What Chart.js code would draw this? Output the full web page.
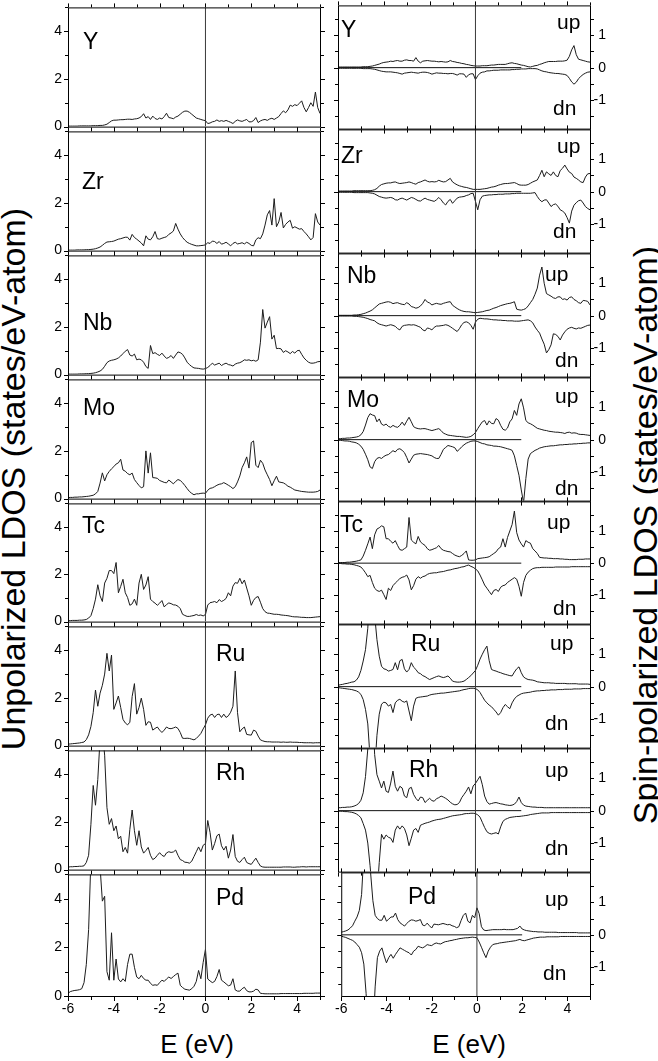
<!DOCTYPE html>
<html>
<head>
<meta charset="utf-8">
<title>LDOS</title>
<script src="https://cdn.jsdelivr.net/npm/chart.js@4.4.1/dist/chart.umd.min.js"></script>
<style>
  html, body { margin: 0; padding: 0; background: #fff; }
  #page { position: relative; width: 658px; height: 1061px; overflow: hidden;
          font-family: "Liberation Sans", Arial, Helvetica, sans-serif; color: #000; }
  #page canvas { position: absolute; }
  .ytitle { position: absolute; white-space: nowrap; font-size: 34px; line-height: 1;
            transform: translate(-50%, -50%) rotate(-90deg); }
  .xtitle { position: absolute; white-space: nowrap; font-size: 26px; line-height: 1;
            transform: translateX(-50%); }
</style>
</head>
<body>
<div id="page">
  <div class="ytitle" style="left:13px; top:479px">Unpolarized LDOS (states/eV-atom)</div>
  <div class="ytitle" style="left:645px; top:535px">Spin-polarized LDOS (states/eV-atom)</div>
  <div class="xtitle" style="left:197px; top:1031px">E (eV)</div>
  <div class="xtitle" style="left:469px; top:1031px">E (eV)</div>
</div>
<script>
// energy grid (eV)
const energy = [
  -6.0,-5.9,-5.8,-5.7,-5.6,-5.5,-5.4,-5.3,-5.2,-5.1,
  -5.0,-4.9,-4.8,-4.7,-4.6,-4.5,-4.4,-4.3,-4.2,-4.1,
  -4.0,-3.9,-3.8,-3.7,-3.6,-3.5,-3.4,-3.3,-3.2,-3.1,
  -3.0,-2.9,-2.8,-2.7,-2.6,-2.5,-2.4,-2.3,-2.2,-2.1,
  -2.0,-1.9,-1.8,-1.7,-1.6,-1.5,-1.4,-1.3,-1.2,-1.1,
  -1.0,-0.9,-0.8,-0.7,-0.6,-0.5,-0.4,-0.3,-0.2,-0.1,
  0.0,0.1,0.2,0.3,0.4,0.5,0.6,0.7,0.8,0.9,
  1.0,1.1,1.2,1.3,1.4,1.5,1.6,1.7,1.8,1.9,
  2.0,2.1,2.2,2.3,2.4,2.5,2.6,2.7,2.8,2.9,
  3.0,3.1,3.2,3.3,3.4,3.5,3.6,3.7,3.8,3.9,
  4.0,4.1,4.2,4.3,4.4,4.5,4.6,4.7,4.8,4.9,
  5.0];

const elements = ["Y", "Zr", "Nb", "Mo", "Tc", "Ru", "Rh", "Pd"];

// unpolarized LDOS (left column)
const dosY = [0.02,0.02,0.02,0.02,0.02,0.03,0.03,0.03,0.03,0.03,
  0.03,0.04,0.04,0.04,0.05,0.05,0.07,0.1,0.17,0.24,
  0.27,0.27,0.28,0.29,0.29,0.3,0.31,0.31,0.3,0.32,
  0.33,0.36,0.42,0.54,0.36,0.42,0.3,0.44,0.34,0.3,
  0.36,0.32,0.42,0.56,0.38,0.36,0.33,0.4,0.44,0.52,
  0.6,0.65,0.65,0.6,0.52,0.44,0.36,0.33,0.3,0.27,
  0.25,0.13,0.15,0.2,0.22,0.28,0.22,0.25,0.22,0.26,
  0.22,0.18,0.13,0.22,0.28,0.24,0.22,0.26,0.3,0.2,
  0.2,0.25,0.38,0.17,0.24,0.28,0.3,0.26,0.32,0.35,
  0.3,0.36,0.42,0.55,0.66,0.58,0.7,0.9,0.85,0.92,
  0.88,0.98,1.08,0.8,0.62,0.8,1.0,0.85,1.45,0.8,
  0.55];
const dosZr = [0.02,0.02,0.02,0.02,0.03,0.03,0.03,0.03,0.04,0.04,
  0.05,0.06,0.08,0.11,0.15,0.22,0.3,0.36,0.37,0.38,
  0.4,0.44,0.48,0.5,0.53,0.56,0.56,0.44,0.68,0.55,
  0.48,0.4,0.32,0.2,0.62,0.48,0.45,0.58,0.8,0.5,
  0.48,0.52,0.55,0.58,0.68,0.74,0.82,1.14,0.9,0.7,
  0.55,0.44,0.35,0.3,0.26,0.23,0.2,0.2,0.21,0.22,
  0.24,0.33,0.3,0.4,0.38,0.3,0.38,0.27,0.3,0.35,
  0.28,0.2,0.3,0.35,0.28,0.3,0.33,0.28,0.35,0.3,
  0.22,0.2,0.45,0.54,0.5,0.7,1.07,1.5,1.68,1.07,
  2.18,1.0,1.2,1.6,0.95,1.1,1.2,1.27,0.94,1.0,
  0.95,0.9,0.92,0.8,0.7,0.58,0.45,0.55,1.55,1.2,
  1.07];
const dosNb = [0.02,0.02,0.02,0.02,0.02,0.03,0.03,0.03,0.04,0.04,
  0.05,0.06,0.08,0.11,0.15,0.22,0.35,0.5,0.57,0.6,
  0.62,0.65,0.7,0.78,0.88,0.98,1.05,0.82,0.78,0.86,
  0.62,0.65,0.62,0.52,0.34,0.26,1.22,0.88,0.92,0.85,
  0.8,0.9,0.78,0.68,0.72,0.8,0.68,0.82,0.95,0.92,
  0.85,0.7,0.52,0.42,0.34,0.28,0.27,0.26,0.24,0.23,
  0.25,0.3,0.38,0.48,0.4,0.44,0.48,0.38,0.44,0.48,
  0.42,0.4,0.36,0.44,0.48,0.5,0.55,0.62,0.6,0.62,
  0.58,0.6,0.56,0.62,1.36,2.73,1.95,2.2,2.43,1.49,
  1.65,1.09,1.1,1.08,0.93,1.0,0.95,0.88,0.97,0.9,
  1.0,1.02,0.85,0.7,0.6,0.52,0.48,0.48,0.5,0.54,
  0.55];
const dosMo = [0.04,0.05,0.05,0.06,0.06,0.07,0.07,0.08,0.09,0.1,
  0.12,0.14,0.2,0.3,0.65,1.08,0.74,1.0,1.14,1.25,
  1.34,1.45,1.5,1.65,1.2,1.15,1.05,1.0,1.07,0.8,
  0.67,0.55,0.45,0.5,2.0,1.07,1.92,0.88,0.87,0.85,
  0.76,0.72,0.68,0.66,0.78,0.7,0.62,0.72,0.8,0.76,
  0.67,0.55,0.42,0.3,0.22,0.16,0.2,0.2,0.22,0.23,
  0.22,0.35,0.43,0.45,0.5,0.56,0.6,0.62,0.67,0.62,
  0.56,0.5,0.42,0.5,0.7,0.95,1.3,1.5,1.75,1.28,
  2.35,2.42,1.4,1.3,1.61,1.48,1.2,1.0,0.8,0.54,
  0.75,0.94,0.7,0.68,0.66,0.6,0.52,0.48,0.42,0.36,
  0.34,0.32,0.3,0.29,0.28,0.27,0.27,0.27,0.28,0.3,
  0.36];
const dosTc = [0.04,0.04,0.05,0.05,0.05,0.06,0.06,0.07,0.09,0.15,
  0.25,0.55,0.95,1.56,1.09,0.85,1.63,1.83,2.16,2.16,
  2.03,2.5,1.22,1.49,1.79,1.22,1.02,0.69,0.75,0.95,
  0.69,1.63,2.0,1.36,1.55,1.9,0.95,0.85,0.78,0.69,
  0.78,0.89,0.62,0.72,0.79,0.76,0.71,0.7,0.65,0.55,
  0.31,0.26,0.22,0.22,0.24,0.26,0.3,0.26,0.28,0.24,
  0.3,0.7,0.8,0.82,0.85,0.8,0.93,0.85,0.9,0.98,
  1.22,1.09,1.5,1.65,1.62,1.83,1.6,1.76,1.42,1.09,
  0.69,0.9,1.02,1.06,0.82,0.55,0.42,0.36,0.35,0.33,
  0.31,0.31,0.3,0.28,0.27,0.26,0.25,0.23,0.21,0.2,
  0.2,0.19,0.18,0.18,0.17,0.17,0.17,0.18,0.19,0.2,
  0.21];
const dosRu = [0.06,0.07,0.08,0.09,0.1,0.11,0.13,0.15,0.25,0.45,
  0.8,1.38,2.33,1.65,2.2,2.53,3.0,3.87,3.13,3.8,
  1.52,1.79,2.08,1.6,1.1,0.95,0.87,0.98,2.06,2.6,
  1.32,1.6,1.99,1.52,0.85,1.0,0.98,0.65,0.72,0.78,
  0.65,0.55,0.65,0.78,0.72,0.71,0.74,0.78,0.72,0.55,
  0.31,0.3,0.31,0.3,0.27,0.24,0.3,0.4,0.51,0.7,
  0.87,1.15,1.28,1.32,1.18,1.3,1.32,1.18,1.32,1.18,
  1.25,1.4,1.65,3.13,1.38,0.58,0.7,0.78,0.47,0.45,
  0.44,0.65,0.6,0.4,0.24,0.2,0.17,0.16,0.16,0.15,
  0.15,0.15,0.15,0.14,0.15,0.14,0.14,0.15,0.14,0.14,
  0.14,0.13,0.13,0.12,0.12,0.12,0.12,0.11,0.12,0.12,
  0.12];
const dosRh = [0.1,0.12,0.12,0.13,0.13,0.14,0.14,0.16,0.3,0.6,
  1.9,3.53,2.7,3.78,5.5,5.8,4.8,2.6,1.9,2.14,
  1.63,1.83,1.29,1.4,0.75,0.93,0.69,1.69,2.5,1.63,
  1.02,1.63,0.95,0.69,0.8,0.93,0.6,0.42,0.48,0.6,
  0.71,0.6,0.55,0.7,0.75,0.72,0.74,0.82,0.6,0.42,
  0.38,0.31,0.3,0.27,0.35,0.55,0.75,0.95,0.75,1.02,
  1.09,2.06,1.56,0.82,1.09,1.42,1.49,1.0,0.82,0.98,
  0.48,0.82,1.47,0.55,0.35,0.3,0.42,0.52,0.3,0.25,
  0.22,0.35,0.48,0.3,0.15,0.11,0.1,0.1,0.1,0.1,
  0.1,0.1,0.1,0.1,0.11,0.11,0.11,0.11,0.1,0.1,
  0.11,0.11,0.12,0.12,0.11,0.12,0.12,0.12,0.12,0.12,
  0.12];
const dosPd = [0.11,0.18,0.21,0.23,0.24,0.26,0.3,0.55,1.3,2.73,
  5.6,7.0,7.0,6.5,5.3,3.9,4.1,1.0,0.65,2.6,
  0.65,1.52,0.7,0.58,0.71,0.6,1.3,1.72,1.72,1.18,
  0.78,0.71,0.85,0.72,0.65,0.65,0.52,0.44,0.46,0.44,
  0.55,0.65,0.6,0.7,0.78,0.72,0.8,0.88,0.94,0.44,
  0.35,0.28,0.26,0.24,0.3,0.4,0.6,1.05,0.71,1.38,
  1.92,0.7,0.62,0.55,0.6,0.8,1.09,0.65,0.58,0.5,
  0.42,0.45,0.71,0.25,0.2,0.2,0.3,0.36,0.22,0.17,
  0.17,0.2,0.28,0.25,0.11,0.1,0.09,0.09,0.09,0.09,
  0.09,0.09,0.09,0.1,0.1,0.1,0.1,0.1,0.1,0.1,
  0.1,0.1,0.1,0.11,0.11,0.11,0.11,0.11,0.12,0.12,
  0.12];

// spin-polarized LDOS (right column): majority (up) and minority (dn, plotted negative)
const upY = [0.02,0.02,0.02,0.02,0.02,0.02,0.02,0.02,0.02,0.02,
  0.02,0.03,0.03,0.03,0.04,0.05,0.07,0.09,0.11,0.14,
  0.16,0.17,0.18,0.2,0.19,0.21,0.22,0.2,0.2,0.23,
  0.24,0.22,0.22,0.2,0.31,0.2,0.15,0.2,0.21,0.22,
  0.21,0.2,0.2,0.19,0.18,0.19,0.18,0.17,0.18,0.22,
  0.19,0.18,0.16,0.15,0.13,0.12,0.1,0.09,0.07,0.06,
  0.05,0.05,0.05,0.06,0.06,0.06,0.07,0.08,0.08,0.09,
  0.1,0.1,0.1,0.1,0.12,0.14,0.15,0.13,0.12,0.1,
  0.08,0.07,0.05,0.03,0.02,0.04,0.06,0.07,0.1,0.12,
  0.15,0.17,0.19,0.19,0.19,0.19,0.2,0.2,0.2,0.21,
  0.23,0.35,0.55,0.68,0.4,0.26,0.24,0.22,0.2,0.18,
  0.17];
const dnY = [-0.02,-0.02,-0.02,-0.02,-0.02,-0.02,-0.02,-0.02,-0.02,-0.02,
  -0.02,-0.03,-0.03,-0.03,-0.03,-0.04,-0.05,-0.07,-0.09,-0.11,
  -0.12,-0.13,-0.13,-0.13,-0.14,-0.15,-0.16,-0.18,-0.2,-0.17,
  -0.16,-0.15,-0.14,-0.15,-0.16,-0.17,-0.15,-0.14,-0.14,-0.15,
  -0.17,-0.2,-0.18,-0.16,-0.17,-0.17,-0.18,-0.18,-0.19,-0.18,
  -0.18,-0.2,-0.23,-0.19,-0.19,-0.2,-0.3,-0.22,-0.19,-0.19,
  -0.37,-0.25,-0.17,-0.14,-0.13,-0.1,-0.1,-0.09,-0.08,-0.08,
  -0.08,-0.07,-0.07,-0.07,-0.07,-0.07,-0.06,-0.06,-0.05,-0.05,
  -0.04,-0.04,-0.04,-0.03,-0.03,-0.03,-0.03,-0.04,-0.07,-0.1,
  -0.12,-0.13,-0.15,-0.16,-0.17,-0.18,-0.18,-0.19,-0.2,-0.21,
  -0.24,-0.33,-0.44,-0.51,-0.45,-0.34,-0.27,-0.21,-0.17,-0.14,
  -0.13];
const upZr = [0.02,0.02,0.02,0.02,0.02,0.02,0.02,0.03,0.03,0.03,
  0.03,0.03,0.03,0.03,0.03,0.04,0.06,0.1,0.17,0.22,
  0.24,0.26,0.27,0.27,0.29,0.3,0.27,0.25,0.26,0.27,
  0.28,0.3,0.28,0.25,0.23,0.28,0.3,0.33,0.36,0.32,
  0.3,0.31,0.3,0.31,0.35,0.32,0.3,0.31,0.36,0.41,
  0.3,0.25,0.21,0.18,0.16,0.14,0.13,0.11,0.09,0.07,
  0.07,0.07,0.07,0.08,0.09,0.1,0.12,0.14,0.15,0.17,
  0.2,0.22,0.24,0.25,0.25,0.26,0.27,0.28,0.25,0.21,
  0.2,0.2,0.2,0.22,0.26,0.3,0.33,0.36,0.5,0.66,
  0.46,0.61,0.55,0.5,0.61,0.5,0.46,0.65,0.72,0.82,
  0.7,0.6,0.56,0.45,0.41,0.36,0.3,0.28,0.45,0.55,
  0.56];
const dnZr = [-0.02,-0.02,-0.02,-0.02,-0.02,-0.02,-0.02,-0.03,-0.03,-0.03,
  -0.03,-0.03,-0.03,-0.03,-0.04,-0.05,-0.07,-0.11,-0.15,-0.17,
  -0.19,-0.2,-0.19,-0.18,-0.2,-0.25,-0.26,-0.22,-0.2,-0.23,
  -0.26,-0.22,-0.18,-0.2,-0.24,-0.28,-0.29,-0.24,-0.2,-0.24,
  -0.26,-0.28,-0.3,-0.25,-0.18,-0.25,-0.35,-0.41,-0.3,-0.24,
  -0.36,-0.28,-0.2,-0.17,-0.16,-0.15,-0.12,-0.1,-0.06,-0.05,
  -0.3,-0.56,-0.25,-0.14,-0.12,-0.11,-0.1,-0.1,-0.09,-0.09,
  -0.08,-0.08,-0.08,-0.07,-0.07,-0.07,-0.06,-0.06,-0.05,-0.05,
  -0.05,-0.05,-0.05,-0.05,-0.05,-0.04,-0.03,-0.15,-0.25,-0.31,
  -0.26,-0.25,-0.35,-0.46,-0.4,-0.38,-0.45,-0.56,-0.6,-0.66,
  -0.8,-0.97,-0.6,-0.42,-0.34,-0.28,-0.26,-0.35,-0.46,-0.52,
  -0.56];
const upNb = [0.01,0.01,0.01,0.01,0.01,0.01,0.01,0.02,0.02,0.03,
  0.04,0.06,0.08,0.11,0.14,0.18,0.24,0.3,0.36,0.38,
  0.4,0.42,0.43,0.41,0.37,0.39,0.4,0.37,0.35,0.34,
  0.4,0.36,0.28,0.26,0.23,0.25,0.3,0.38,0.5,0.42,
  0.39,0.33,0.36,0.38,0.36,0.35,0.38,0.4,0.42,0.43,
  0.32,0.27,0.22,0.18,0.15,0.13,0.12,0.12,0.11,0.1,
  0.09,0.1,0.11,0.12,0.14,0.16,0.17,0.2,0.23,0.25,
  0.28,0.31,0.33,0.35,0.37,0.38,0.4,0.43,0.2,0.18,
  0.17,0.19,0.22,0.3,0.4,0.5,0.66,0.85,1.25,1.5,
  1.0,0.68,0.64,0.6,0.55,0.53,0.58,0.58,0.5,0.52,
  0.48,0.56,0.58,0.5,0.46,0.4,0.38,0.47,0.46,0.44,
  0.33];
const dnNb = [-0.01,-0.01,-0.01,-0.01,-0.01,-0.01,-0.01,-0.02,-0.02,-0.03,
  -0.04,-0.05,-0.07,-0.09,-0.12,-0.14,-0.16,-0.22,-0.26,-0.28,
  -0.3,-0.32,-0.3,-0.28,-0.3,-0.33,-0.4,-0.44,-0.33,-0.3,
  -0.29,-0.28,-0.29,-0.28,-0.3,-0.33,-0.36,-0.44,-0.47,-0.38,
  -0.4,-0.44,-0.36,-0.32,-0.32,-0.31,-0.3,-0.28,-0.3,-0.34,
  -0.39,-0.44,-0.49,-0.4,-0.28,-0.21,-0.19,-0.22,-0.3,-0.42,
  -0.2,-0.11,-0.08,-0.09,-0.1,-0.1,-0.11,-0.12,-0.13,-0.13,
  -0.14,-0.14,-0.15,-0.15,-0.16,-0.16,-0.16,-0.17,-0.17,-0.17,
  -0.16,-0.15,-0.14,-0.13,-0.16,-0.22,-0.35,-0.45,-0.54,-0.72,
  -0.88,-1.15,-1.05,-0.9,-0.56,-0.58,-0.64,-0.75,-0.6,-0.5,
  -0.42,-0.38,-0.36,-0.39,-0.41,-0.38,-0.39,-0.36,-0.33,-0.3,
  -0.29];
const upMo = [0.03,0.03,0.04,0.04,0.05,0.05,0.06,0.07,0.08,0.1,
  0.15,0.25,0.45,0.68,0.8,0.76,0.74,0.55,0.64,0.48,
  0.44,0.48,0.41,0.38,0.44,0.4,0.38,0.44,0.54,0.44,
  0.57,0.69,0.55,0.4,0.36,0.34,0.33,0.34,0.34,0.32,
  0.3,0.28,0.3,0.32,0.34,0.28,0.2,0.17,0.14,0.13,
  0.12,0.11,0.1,0.1,0.09,0.08,0.07,0.08,0.1,0.15,
  0.22,0.34,0.45,0.55,0.59,0.45,0.58,0.5,0.49,0.65,
  0.6,0.44,0.32,0.29,0.36,0.55,0.64,0.9,0.75,1.1,
  1.26,0.98,0.59,0.52,0.49,0.45,0.4,0.35,0.33,0.31,
  0.29,0.28,0.26,0.25,0.24,0.23,0.23,0.22,0.21,0.19,
  0.22,0.23,0.2,0.21,0.2,0.17,0.16,0.16,0.15,0.14,
  0.13];
const dnMo = [-0.02,-0.02,-0.03,-0.04,-0.04,-0.05,-0.07,-0.08,-0.1,-0.14,
  -0.2,-0.3,-0.45,-0.62,-0.84,-0.89,-0.68,-0.58,-0.55,-0.58,
  -0.52,-0.48,-0.46,-0.4,-0.34,-0.38,-0.3,-0.28,-0.33,-0.4,
  -0.55,-0.72,-0.6,-0.48,-0.45,-0.44,-0.43,-0.44,-0.45,-0.46,
  -0.48,-0.5,-0.55,-0.58,-0.58,-0.45,-0.3,-0.24,-0.18,-0.2,
  -0.22,-0.25,-0.36,-0.3,-0.22,-0.16,-0.11,-0.08,-0.05,-0.04,
  -0.04,-0.06,-0.09,-0.12,-0.13,-0.16,-0.17,-0.18,-0.2,-0.2,
  -0.21,-0.22,-0.24,-0.26,-0.28,-0.3,-0.33,-0.5,-0.8,-1.1,
  -1.55,-1.95,-1.2,-0.6,-0.43,-0.38,-0.33,-0.3,-0.26,-0.24,
  -0.22,-0.21,-0.2,-0.19,-0.19,-0.18,-0.17,-0.16,-0.16,-0.15,
  -0.15,-0.14,-0.14,-0.13,-0.13,-0.12,-0.12,-0.11,-0.11,-0.1,
  -0.1];
const upTc = [0.02,0.02,0.02,0.02,0.03,0.03,0.04,0.05,0.06,0.08,
  0.1,0.22,0.4,0.6,0.81,0.45,0.88,1.06,1.1,1.16,
  1.13,0.76,0.76,0.68,0.62,0.7,0.55,0.42,0.4,0.45,
  0.5,1.42,0.72,0.65,0.6,0.83,0.66,0.6,0.55,0.45,
  0.4,0.42,0.45,0.48,0.55,0.45,0.4,0.38,0.36,0.35,
  0.3,0.25,0.22,0.2,0.24,0.3,0.38,0.1,0.09,0.09,
  0.1,0.14,0.15,0.16,0.17,0.18,0.2,0.25,0.3,0.35,
  0.45,0.5,0.76,0.5,0.8,1.0,1.2,1.62,0.95,0.72,
  0.6,0.5,0.7,0.65,0.62,0.45,0.38,0.3,0.18,0.17,
  0.16,0.16,0.15,0.15,0.14,0.14,0.14,0.13,0.13,0.12,
  0.12,0.11,0.11,0.11,0.11,0.12,0.12,0.12,0.13,0.13,
  0.13];
const dnTc = [-0.01,-0.01,-0.02,-0.02,-0.03,-0.03,-0.04,-0.05,-0.07,-0.09,
  -0.12,-0.2,-0.3,-0.42,-0.38,-0.6,-0.78,-0.85,-0.88,-0.84,
  -0.98,-1.13,-0.78,-0.85,-0.7,-0.62,-0.55,-0.48,-0.44,-0.42,
  -0.37,-0.52,-0.83,-0.7,-0.5,-0.42,-0.47,-0.42,-0.4,-0.35,
  -0.32,-0.31,-0.3,-0.3,-0.28,-0.27,-0.26,-0.24,-0.22,-0.21,
  -0.19,-0.17,-0.16,-0.14,-0.12,-0.11,-0.08,-0.06,-0.1,-0.13,
  -0.18,-0.24,-0.37,-0.52,-0.68,-0.78,-0.88,-0.98,-0.85,-0.82,
  -0.88,-0.75,-0.7,-0.68,-0.6,-0.55,-0.5,-0.45,-0.5,-0.72,
  -1.03,-0.6,-0.38,-0.28,-0.22,-0.17,-0.15,-0.14,-0.14,-0.13,
  -0.13,-0.13,-0.13,-0.13,-0.13,-0.12,-0.12,-0.12,-0.12,-0.12,
  -0.12,-0.12,-0.11,-0.11,-0.11,-0.11,-0.11,-0.11,-0.11,-0.11,
  -0.11];
const upRu = [0.04,0.06,0.07,0.09,0.1,0.12,0.14,0.15,0.2,0.3,
  0.5,0.79,1.14,1.8,3.0,3.2,2.2,1.45,0.94,0.63,
  0.55,0.53,0.48,0.5,0.53,0.74,0.52,0.8,0.84,0.55,
  0.45,0.53,0.74,0.6,0.53,0.43,0.4,0.34,0.31,0.26,
  0.22,0.25,0.28,0.31,0.33,0.3,0.28,0.3,0.33,0.26,
  0.17,0.15,0.14,0.14,0.15,0.17,0.22,0.28,0.34,0.42,
  0.5,0.66,0.85,1.0,1.14,1.25,0.8,0.53,0.5,0.48,
  0.45,0.43,0.4,0.38,0.36,0.34,0.33,0.45,0.55,0.61,
  0.43,0.3,0.25,0.22,0.21,0.2,0.18,0.15,0.14,0.13,
  0.12,0.12,0.12,0.11,0.11,0.1,0.1,0.1,0.1,0.1,
  0.09,0.09,0.09,0.09,0.09,0.08,0.08,0.08,0.08,0.08,
  0.07];
const dnRu = [-0.03,-0.04,-0.05,-0.06,-0.07,-0.08,-0.09,-0.11,-0.13,-0.17,
  -0.24,-0.4,-0.7,-1.15,-2.2,-3.0,-2.6,-1.5,-0.85,-0.54,
  -0.48,-0.5,-0.6,-0.55,-0.8,-0.5,-0.42,-0.39,-0.45,-0.48,
  -0.44,-0.75,-1.05,-0.6,-0.36,-0.33,-0.32,-0.31,-0.3,-0.29,
  -0.26,-0.24,-0.23,-0.22,-0.21,-0.2,-0.2,-0.19,-0.18,-0.17,
  -0.16,-0.15,-0.14,-0.13,-0.11,-0.09,-0.08,-0.06,-0.05,-0.05,
  -0.06,-0.1,-0.18,-0.3,-0.42,-0.5,-0.57,-0.62,-0.7,-0.78,
  -0.88,-0.8,-0.65,-0.55,-0.62,-0.68,-0.5,-0.38,-0.3,-0.26,
  -0.22,-0.2,-0.19,-0.18,-0.17,-0.15,-0.14,-0.13,-0.13,-0.12,
  -0.12,-0.11,-0.11,-0.1,-0.1,-0.1,-0.09,-0.09,-0.09,-0.08,
  -0.08,-0.08,-0.08,-0.07,-0.07,-0.07,-0.07,-0.06,-0.06,-0.06,
  -0.06];
const upRh = [0.09,0.09,0.1,0.1,0.11,0.11,0.12,0.14,0.17,0.22,
  0.32,0.55,1.05,1.9,3.0,3.2,1.73,1.11,0.91,0.7,
  0.91,0.6,0.56,0.85,1.22,0.75,0.6,0.75,0.7,0.45,
  0.4,0.68,0.72,0.5,0.38,0.3,0.42,0.4,0.25,0.32,
  0.38,0.31,0.29,0.37,0.4,0.45,0.42,0.38,0.33,0.26,
  0.21,0.18,0.19,0.25,0.4,0.5,0.6,0.73,0.52,0.76,
  0.84,0.95,1.06,0.8,0.45,0.28,0.2,0.22,0.24,0.25,
  0.23,0.21,0.2,0.18,0.17,0.16,0.17,0.2,0.28,0.42,
  0.25,0.17,0.14,0.13,0.12,0.11,0.11,0.1,0.1,0.1,
  0.09,0.09,0.09,0.09,0.09,0.09,0.09,0.09,0.09,0.09,
  0.09,0.09,0.09,0.09,0.09,0.09,0.09,0.09,0.09,0.09,
  0.09];
const dnRh = [-0.01,-0.02,-0.02,-0.03,-0.03,-0.04,-0.05,-0.07,-0.1,-0.15,
  -0.22,-0.4,-0.6,-1.0,-1.7,-2.5,-3.0,-2.6,-1.6,-0.73,
  -0.88,-0.75,-0.82,-0.85,-0.98,-0.6,-0.47,-0.57,-0.47,-0.55,
  -0.75,-1.08,-0.85,-0.6,-0.55,-0.67,-0.45,-0.42,-0.39,-0.37,
  -0.35,-0.32,-0.3,-0.28,-0.27,-0.26,-0.24,-0.22,-0.2,-0.18,
  -0.16,-0.15,-0.14,-0.13,-0.12,-0.1,-0.09,-0.09,-0.08,-0.08,
  -0.09,-0.13,-0.2,-0.36,-0.52,-0.65,-0.7,-0.72,-0.7,-0.68,
  -0.72,-0.5,-0.33,-0.27,-0.24,-0.21,-0.2,-0.19,-0.18,-0.18,
  -0.17,-0.16,-0.15,-0.14,-0.12,-0.11,-0.1,-0.09,-0.08,-0.07,
  -0.07,-0.07,-0.07,-0.06,-0.06,-0.06,-0.06,-0.06,-0.06,-0.06,
  -0.06,-0.06,-0.06,-0.06,-0.06,-0.06,-0.06,-0.06,-0.06,-0.06,
  -0.06];
const upPd = [0.08,0.1,0.12,0.15,0.21,0.28,0.42,0.55,0.75,1.24,
  2.5,3.5,3.0,1.9,1.05,0.6,0.5,0.45,0.45,0.6,
  0.42,0.48,0.55,0.55,0.67,0.47,0.37,0.32,0.27,0.35,
  0.42,0.46,0.45,0.42,0.44,0.47,0.3,0.28,0.36,0.28,
  0.21,0.33,0.32,0.31,0.33,0.35,0.33,0.31,0.32,0.28,
  0.26,0.22,0.25,0.44,0.6,0.67,0.42,0.37,0.6,0.52,
  0.83,0.65,0.25,0.15,0.13,0.14,0.15,0.16,0.16,0.16,
  0.16,0.16,0.17,0.16,0.16,0.16,0.16,0.18,0.2,0.27,
  0.18,0.15,0.13,0.12,0.11,0.1,0.1,0.09,0.09,0.09,
  0.08,0.08,0.08,0.08,0.08,0.08,0.07,0.07,0.07,0.07,
  0.07,0.07,0.07,0.07,0.07,0.06,0.06,0.06,0.06,0.06,
  0.06];
const dnPd = [-0.04,-0.06,-0.08,-0.11,-0.14,-0.17,-0.22,-0.3,-0.38,-0.55,
  -0.9,-1.8,-3.0,-3.5,-3.0,-1.6,-0.7,-0.5,-0.4,-0.65,
  -0.86,-0.7,-0.6,-0.72,-0.6,-0.5,-0.4,-0.44,-0.48,-0.52,
  -0.55,-0.62,-0.5,-0.45,-0.35,-0.38,-0.4,-0.36,-0.3,-0.32,
  -0.33,-0.28,-0.25,-0.27,-0.28,-0.24,-0.21,-0.2,-0.18,-0.17,
  -0.15,-0.14,-0.12,-0.11,-0.1,-0.09,-0.09,-0.08,-0.07,-0.08,
  -0.09,-0.22,-0.38,-0.55,-0.7,-0.5,-0.38,-0.3,-0.28,-0.27,
  -0.25,-0.24,-0.23,-0.22,-0.21,-0.2,-0.19,-0.18,-0.16,-0.14,
  -0.17,-0.18,-0.16,-0.14,-0.12,-0.1,-0.09,-0.08,-0.07,-0.07,
  -0.07,-0.06,-0.06,-0.06,-0.06,-0.06,-0.06,-0.05,-0.05,-0.05,
  -0.05,-0.05,-0.05,-0.05,-0.05,-0.05,-0.05,-0.05,-0.05,-0.05,
  -0.05];

const baselineE = [-6, 2];   // zero reference line drawn in spin panels
const fermiE = 0;
const xTickLabels = [-6, -4, -2, 0, 2, 4];
const leftTickLabels = [0, 2, 4];
const rightTickLabels = [-1, 0, 1];

const unpolarized = [dosY, dosZr, dosNb, dosMo, dosTc, dosRu, dosRh, dosPd];
const spinUp = [upY, upZr, upNb, upMo, upTc, upRu, upRh, upPd];
const spinDn = [dnY, dnZr, dnNb, dnMo, dnTc, dnRu, dnRh, dnPd];

// ---- layout ----
const FONT = '"Liberation Sans", Arial, Helvetica, sans-serif';
Chart.defaults.font.family = FONT;
Chart.defaults.font.size = 14;
Chart.defaults.color = '#000';

const PAD = 12;
const panelTop = i => 5 + Math.round(i * 123.875);
const LEFT_Y = { min: 0, max: 5 };
const RIGHT_Y = { min: -1.88, max: 1.92 };

// label placement: [x on page, baseline offset from panel top]
const leftNamePos = [[83, 42], [82, 58], [83, 75], [83, 36], [82, 30], [216, 35], [216, 30], [216, 31]];
const rightNamePos = [[341, 32], [341, 34], [347, 30], [347, 30], [340, 31], [411, 27], [409, 29], [408, 32]];
const upPos = [[557, 24], [557, 24], [545, 28], [555, 26], [547, 28], [550, 26], [545, 29], [545, 34]];
const dnPos = [[553, 110], [553, 109], [555, 114], [555, 118], [553, 114], [545, 106], [545, 107], [543, 108]];

const page = document.getElementById('page');

function pts(vals) {
  return energy.map((e, i) => ({ x: e, y: vals[i] }));
}

function framePlugin(opts) {
  return {
    id: 'frame' + opts.key,
    afterDatasetsDraw(chart) {
      const { ctx, chartArea: a } = chart;
      const xs = chart.scales.x, ys = chart.scales.y;
      ctx.save();
      ctx.strokeStyle = '#000';
      ctx.lineWidth = 1;
      ctx.strokeRect(a.left + 0.5, a.top + 0.5, a.right - a.left, a.bottom - a.top);
      ctx.beginPath();
      xs.ticks.forEach(t => {
        const px = Math.round(xs.getPixelForValue(t.value)) + 0.5;
        const len = xTickLabels.includes(t.value) ? 4 : 3;
        ctx.moveTo(px, a.top); ctx.lineTo(px, a.top - len);
        ctx.moveTo(px, a.bottom + 1); ctx.lineTo(px, a.bottom + 1 + len);
      });
      ys.ticks.forEach(t => {
        const py = Math.round(ys.getPixelForValue(t.value)) + 0.5;
        const len = opts.major.includes(t.value) ? 4 : 3;
        ctx.moveTo(a.left, py); ctx.lineTo(a.left - len, py);
        ctx.moveTo(a.right + 1, py); ctx.lineTo(a.right + 1 + Math.min(len, opts.rightTick), py);
      });
      ctx.stroke();
      ctx.fillStyle = '#000';
      ctx.textBaseline = 'alphabetic';
      ctx.textAlign = 'left';
      opts.labels.forEach(l => {
        ctx.font = l.size + 'px ' + FONT;
        ctx.fillText(l.text, l.x - opts.offsetX, a.top + l.dy);
      });
      ctx.restore();
    }
  };
}

function addCanvas(x, y, w, h) {
  const c = document.createElement('canvas');
  c.width = w; c.height = h;
  c.style.left = x + 'px'; c.style.top = y + 'px';
  c.style.width = w + 'px'; c.style.height = h + 'px';
  page.appendChild(c);
  return c;
}

function xScale(isLast) {
  return {
    type: 'linear', min: -6, max: 5,
    border: { display: false },
    grid: { display: false, drawTicks: false },
    ticks: {
      stepSize: 1, autoSkip: false, maxRotation: 0, display: isLast, padding: 5,
      callback: v => xTickLabels.includes(v) ? String(v) : ''
    },
    afterFit: s => { s.height = isLast ? 30 : 0; }
  };
}

const lineStyle = { borderColor: '#1c1c1c', borderWidth: 1, pointRadius: 0, tension: 0, fill: false };

for (let i = 0; i < elements.length; i++) {
  const top = panelTop(i);
  const h = panelTop(i + 1) - top;
  const isLast = i === elements.length - 1;
  const extra = isLast ? 30 : 0;

  // ---- left: unpolarized ----
  const cl = addCanvas(0, top - PAD, 330, h + 2 * PAD + extra);
  new Chart(cl, {
    type: 'line',
    data: {
      datasets: [
        { ...lineStyle, data: [{ x: fermiE, y: LEFT_Y.min }, { x: fermiE, y: LEFT_Y.max }], borderColor: '#3a3a3a' },
        { ...lineStyle, data: pts(unpolarized[i]) }
      ]
    },
    options: {
      responsive: false, animation: false, devicePixelRatio: 1, events: [],
      layout: { padding: { left: 28, right: 10, top: PAD, bottom: PAD } },
      plugins: { legend: { display: false }, tooltip: { enabled: false } },
      scales: {
        x: xScale(isLast),
        y: {
          type: 'linear', position: 'left', min: LEFT_Y.min, max: LEFT_Y.max,
          border: { display: false },
          grid: { display: false, drawTicks: false },
          ticks: {
            stepSize: 1, autoSkip: false, includeBounds: false, padding: 6,
            callback: v => leftTickLabels.includes(v) ? String(v) : ''
          },
          afterFit: s => { s.width = 40; }
        }
      }
    },
    plugins: [framePlugin({
      key: 'L' + i, offsetX: 0, major: leftTickLabels, rightTick: 4,
      labels: [{ text: elements[i], x: leftNamePos[i][0], dy: leftNamePos[i][1], size: 23 }]
    })]
  });

  // ---- right: spin-polarized ----
  const cr = addCanvas(330, top - PAD, 300, h + 2 * PAD + extra);
  new Chart(cr, {
    type: 'line',
    data: {
      datasets: [
        { ...lineStyle, data: [{ x: fermiE, y: RIGHT_Y.min }, { x: fermiE, y: RIGHT_Y.max }], borderColor: '#3a3a3a' },
        { ...lineStyle, data: [{ x: baselineE[0], y: 0 }, { x: baselineE[1], y: 0 }], borderColor: '#111' },
        { ...lineStyle, data: pts(spinUp[i]) },
        { ...lineStyle, data: pts(spinDn[i]) }
      ]
    },
    options: {
      responsive: false, animation: false, devicePixelRatio: 1, events: [],
      layout: { padding: { left: 8, right: 24, top: PAD, bottom: PAD } },
      plugins: { legend: { display: false }, tooltip: { enabled: false } },
      scales: {
        x: xScale(isLast),
        y: {
          type: 'linear', position: 'right', min: RIGHT_Y.min, max: RIGHT_Y.max,
          border: { display: false },
          grid: { display: false, drawTicks: false },
          ticks: {
            stepSize: 0.5, autoSkip: false, includeBounds: false, padding: 4, crossAlign: 'far',
            callback: v => rightTickLabels.includes(v) ? String(v) : ''
          },
          afterFit: s => { s.width = 16; }
        }
      }
    },
    plugins: [framePlugin({
      key: 'R' + i, offsetX: 330, major: rightTickLabels, rightTick: 3,
      labels: [
        { text: elements[i], x: rightNamePos[i][0], dy: rightNamePos[i][1], size: 23 },
        { text: 'up', x: upPos[i][0], dy: upPos[i][1], size: 21 },
        { text: 'dn', x: dnPos[i][0], dy: dnPos[i][1], size: 21 }
      ]
    })]
  });
}
</script>
</body>
</html>
